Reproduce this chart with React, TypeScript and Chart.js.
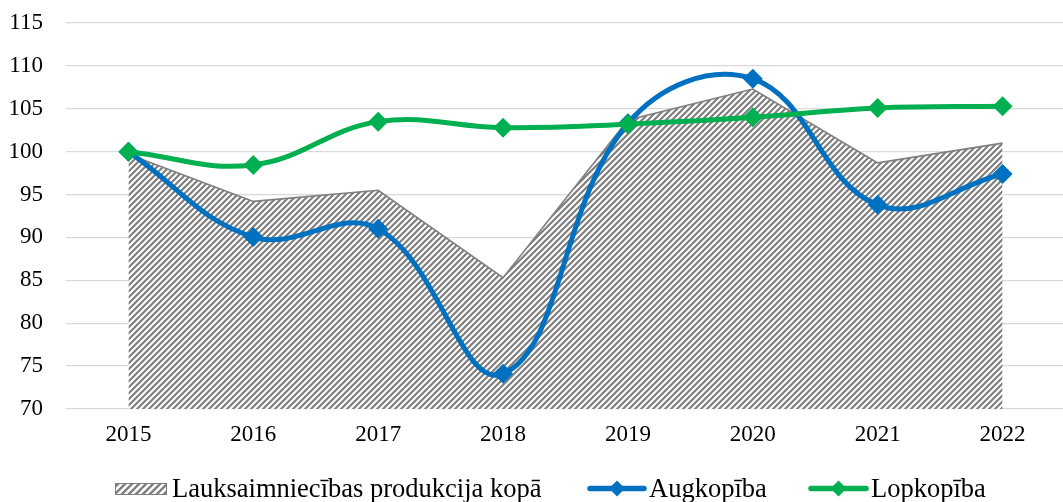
import React, { useEffect, useRef } from 'react';
import { Chart, registerables } from 'chart.js';

Chart.register(...registerables);

const years = ['2015', '2016', '2017', '2018', '2019', '2020', '2021', '2022'];
const totalValues = [99.7, 94.2, 95.5, 85.3, 103.7, 107.3, 98.7, 101.0];
const cropValues = [100, 90.05, 91.0, 74.1, 103.3, 108.5, 93.8, 97.4];
const livestockValues = [100, 98.45, 103.5, 102.8, 103.2, 104.0, 105.1, 105.3];
const seriesLabels = ['Lauksaimniecības produkcija kopā', 'Augkopība', 'Lopkopība'];
const yMin = 70;
const yMax = 115;
const yStep = 5;

const FONT = '"Liberation Serif", "Times New Roman", serif';
const BLUE = '#0070C0';
const GREEN = '#00B050';
const GRAY = '#7f7f7f';

function makeHatch(s: number, lw: number): CanvasPattern | string {
  const c = document.createElement('canvas');
  c.width = s;
  c.height = s;
  const g = c.getContext('2d');
  if (!g) return GRAY;
  g.fillStyle = '#ffffff';
  g.fillRect(0, 0, s, s);
  g.strokeStyle = GRAY;
  g.lineWidth = lw;
  g.beginPath();
  g.moveTo(-1, s + 1);
  g.lineTo(s + 1, -1);
  g.moveTo(-1, 1);
  g.lineTo(1, -1);
  g.moveTo(s - 1, s + 1);
  g.lineTo(s + 1, s - 1);
  g.stroke();
  const p = g.createPattern(c, 'repeat');
  return p || GRAY;
}

export default function App() {
  const ref = useRef<HTMLCanvasElement | null>(null);

  useEffect(() => {
    document.body.style.margin = '0';
    document.body.style.overflow = 'hidden';
    const canvas = ref.current;
    if (!canvas) return;
    const hatch = makeHatch(6, 2.2);
    const legendHatch = makeHatch(7, 2.4);

    const legendPlugin = {
      id: 'customLegend',
      afterDraw(chart: any) {
        const ctx = chart.ctx as CanvasRenderingContext2D;
        ctx.save();
        const cy = 488.5;
        ctx.fillStyle = legendHatch as any;
        ctx.fillRect(115, 483, 52, 12);
        ctx.strokeStyle = GRAY;
        ctx.lineWidth = 1;
        ctx.strokeRect(115.5, 483.5, 51, 11);
        ctx.font = `26.5px ${FONT}`;
        ctx.fillStyle = '#000';
        ctx.textBaseline = 'alphabetic';
        ctx.textAlign = 'left';
        ctx.fillText(seriesLabels[0], 172, 497);
        const lineItem = (x0: number, x1: number, color: string, label: string) => {
          ctx.strokeStyle = color;
          ctx.lineWidth = 5.5;
          ctx.lineCap = 'round';
          ctx.beginPath();
          ctx.moveTo(x0, cy);
          ctx.lineTo(x1, cy);
          ctx.stroke();
          const mx = (x0 + x1) / 2;
          const r = 8;
          ctx.fillStyle = color;
          ctx.beginPath();
          ctx.moveTo(mx, cy - r);
          ctx.lineTo(mx + r, cy);
          ctx.lineTo(mx, cy + r);
          ctx.lineTo(mx - r, cy);
          ctx.closePath();
          ctx.fill();
          ctx.fillStyle = '#000';
          ctx.fillText(label, x1 + 5, 497);
        };
        lineItem(590, 644, BLUE, seriesLabels[1]);
        lineItem(811, 866, GREEN, seriesLabels[2]);
        ctx.restore();
      },
    };

    const chart = new Chart(canvas, {
      type: 'line',
      data: {
        labels: years,
        datasets: [
          {
            label: seriesLabels[2],
            data: livestockValues,
            borderColor: GREEN,
            backgroundColor: GREEN,
            borderWidth: 5,
            tension: 0.4,
            pointStyle: 'rectRot',
            pointRadius: 10,
            pointBorderWidth: 0,
            pointBackgroundColor: GREEN,
            fill: false,
            order: 0,
          },
          {
            label: seriesLabels[1],
            data: cropValues,
            borderColor: BLUE,
            backgroundColor: BLUE,
            borderWidth: 5,
            tension: 0.4,
            pointStyle: 'rectRot',
            pointRadius: 10,
            pointBorderWidth: 0,
            pointBackgroundColor: BLUE,
            fill: false,
            order: 1,
          },
          {
            label: seriesLabels[0],
            data: totalValues,
            borderColor: GRAY,
            backgroundColor: hatch as any,
            borderWidth: 1.6,
            tension: 0,
            pointRadius: 0,
            fill: 'start',
            order: 2,
          },
        ],
      },
      options: {
        responsive: false,
        animation: false,
        layout: { padding: { top: 23, left: 0, right: 6, bottom: 0 } },
        plugins: {
          legend: { display: false },
          tooltip: { enabled: false },
        },
        scales: {
          x: {
            offset: true,
            grid: { display: false, drawTicks: false },
            border: { display: false },
            ticks: {
              color: '#000',
              font: { family: FONT, size: 23 },
              padding: 12,
            },
            afterFit: (scale: any) => {
              scale.height = 93;
              scale.paddingLeft = 0;
              scale.paddingRight = 0;
            },
          },
          y: {
            min: yMin,
            max: yMax,
            ticks: {
              stepSize: yStep,
              color: '#000',
              font: { family: FONT, size: 23 },
              padding: 23,
            },
            grid: { color: '#d9d9d9', lineWidth: 1.3, drawTicks: false },
            border: { display: false },
            afterFit: (scale: any) => {
              scale.width = 66;
              scale.paddingTop = 0;
              scale.paddingBottom = 0;
            },
          },
        },
      },
      plugins: [legendPlugin],
    });
    return () => chart.destroy();
  }, []);

  return (
    <div style={{ position: 'absolute', left: 0, top: 0, width: 1063, height: 502, overflow: 'hidden', background: '#fff' }}>
      <canvas ref={ref} width={1075} height={502} style={{ display: 'block' }} />
    </div>
  );
}
